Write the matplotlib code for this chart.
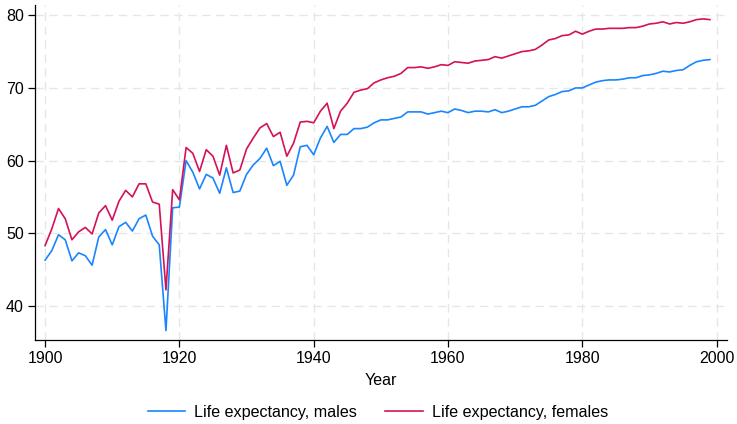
import matplotlib
matplotlib.use("Agg")
import matplotlib.pyplot as plt
import numpy as np

plt.rcParams['font.family'] = ['Liberation Sans', 'DejaVu Sans']

years = list(range(1900, 2000))
le_male = [46.3, 47.6, 49.8, 49.1, 46.2, 47.3, 46.9, 45.6, 49.5, 50.5,
           48.4, 50.9, 51.5, 50.3, 52.0, 52.5, 49.6, 48.4, 36.6, 53.5,
           53.6, 60.0, 58.4, 56.1, 58.1, 57.6, 55.5, 59.0, 55.6, 55.8,
           58.1, 59.4, 60.3, 61.7, 59.3, 59.9, 56.6, 58.0, 61.9, 62.1,
           60.8, 63.1, 64.7, 62.5, 63.6, 63.6, 64.4, 64.4, 64.6, 65.2,
           65.6, 65.6, 65.8, 66.0, 66.7, 66.7, 66.7, 66.4, 66.6, 66.8,
           66.6, 67.1, 66.9, 66.6, 66.8, 66.8, 66.7, 67.0, 66.6, 66.8,
           67.1, 67.4, 67.4, 67.6, 68.2, 68.8, 69.1, 69.5, 69.6, 70.0,
           70.0, 70.4, 70.8, 71.0, 71.1, 71.1, 71.2, 71.4, 71.4, 71.7,
           71.8, 72.0, 72.3, 72.2, 72.4, 72.5, 73.1, 73.6, 73.8, 73.9]
le_female = [48.3, 50.6, 53.4, 52.0, 49.1, 50.2, 50.8, 49.9, 52.8, 53.8,
             51.8, 54.4, 55.9, 55.0, 56.8, 56.8, 54.3, 54.0, 42.2, 56.0,
             54.6, 61.8, 61.0, 58.5, 61.5, 60.6, 58.0, 62.1, 58.3, 58.7,
             61.6, 63.1, 64.5, 65.1, 63.3, 63.9, 60.6, 62.4, 65.3, 65.4,
             65.2, 66.8, 67.9, 64.4, 66.8, 67.9, 69.4, 69.7, 69.9, 70.7,
             71.1, 71.4, 71.6, 72.0, 72.8, 72.8, 72.9, 72.7, 72.9, 73.2,
             73.1, 73.6, 73.5, 73.4, 73.7, 73.8, 73.9, 74.3, 74.1, 74.4,
             74.7, 75.0, 75.1, 75.3, 75.9, 76.6, 76.8, 77.2, 77.3, 77.8,
             77.4, 77.8, 78.1, 78.1, 78.2, 78.2, 78.2, 78.3, 78.3, 78.5,
             78.8, 78.9, 79.1, 78.8, 79.0, 78.9, 79.1, 79.4, 79.5, 79.4]
xticks = [1900, 1920, 1940, 1960, 1980, 2000]
yticks = [40, 50, 60, 70, 80]
labels = ["Life expectancy, males", "Life expectancy, females"]

fig = plt.figure(figsize=(7.37, 4.24), dpi=100)
ax = fig.add_axes([0.0475, 0.198, 0.9385, 0.79])

ax.plot(years, le_male, color='#1a85ff', lw=1.2, label=labels[0])
ax.plot(years, le_female, color='#d41159', lw=1.2, label=labels[1])

ax.set_xlim(1898.5, 2001.5)
ax.set_ylim(35.3, 81.4)
ax.set_xticks(xticks)
ax.set_yticks(yticks)
ax.grid(True, color='#e6e6e6', linestyle=(0, (6, 4)), lw=1.0)
ax.set_axisbelow(True)
for s in ['top', 'right']:
    ax.spines[s].set_visible(False)
for s in ['left', 'bottom']:
    ax.spines[s].set_linewidth(0.9)
ax.tick_params(direction='out', length=5, width=0.9, labelsize=11.5, pad=3)
ax.set_xlabel("Year", fontsize=11.5, labelpad=5)

fig.legend(loc='lower center', bbox_to_anchor=(0.513, -0.024), ncol=2, frameon=False,
           fontsize=11.6, handlelength=2.3, handletextpad=0.6, columnspacing=1.75)

fig.savefig("out.png", dpi=100, facecolor='white')
